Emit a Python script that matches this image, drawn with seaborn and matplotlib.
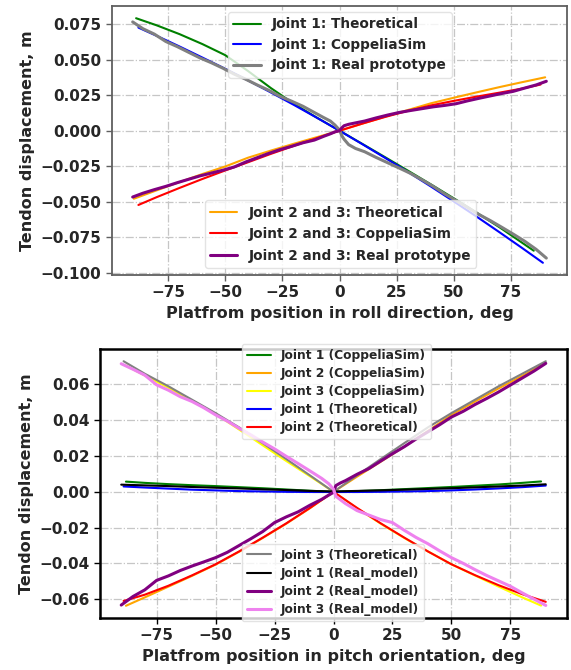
import matplotlib
matplotlib.use("Agg")
import matplotlib.pyplot as plt
import seaborn as sns

# ---------------- roll direction ----------------
roll_x = [-88, -80, -70, -60, -50, -40, -30, -20, -10, 0,
          10, 20, 30, 40, 50, 60, 70, 80, 89]
roll_j1_theory_x = [-89, -80, -70, -60, -50, -40, -30, -20, -10, 0,
                    10, 20, 30, 40, 50, 60, 70, 80, 85]
roll_j1_theory = [0.0792, 0.0742, 0.0680, 0.0610, 0.0532, 0.0420, 0.0300, 0.0190, 0.0093, 0.0,
                  -0.0093, -0.0187, -0.0282, -0.0378, -0.0476, -0.0577, -0.0680, -0.0790, -0.0845]
roll_j1_sim = [0.0726, 0.0668, 0.0593, 0.0515, 0.0436, 0.0354, 0.0269, 0.0182, 0.0092, 0.0,
               -0.0095, -0.0192, -0.0291, -0.0393, -0.0498, -0.0605, -0.0715, -0.0827, -0.0930]
roll_real_x = [-90.5, -86, -81, -76, -71, -66, -61, -56, -51, -46, -41, -36, -31, -26, -21, -16,
               -11, -7, -4, -2, 0, 1, 2, 4, 7, 11, 16, 21, 26, 31, 36, 41, 46, 51, 56, 61,
               66, 71, 76, 81, 86, 90.5]
roll_j1_real = [0.0766, 0.0718, 0.0680, 0.0628, 0.0592, 0.0552, 0.0512, 0.0478, 0.0440, 0.0398,
                0.0362, 0.0322, 0.0285, 0.0242, 0.0208, 0.0172, 0.0128, 0.0093, 0.0068, 0.0040,
                0.0005, -0.0035, -0.0060, -0.0098, -0.0125, -0.0148, -0.0188, -0.0225, -0.0262,
                -0.0300, -0.0345, -0.0392, -0.0445, -0.0492, -0.0540, -0.0590, -0.0633, -0.0680,
                -0.0728, -0.0778, -0.0835, -0.0897]
roll_j23_theory_x = [-90, -80, -70, -60, -50, -40, -30, -20, -10, 0,
                     10, 20, 30, 40, 50, 60, 70, 80, 90]
roll_j23_theory = [-0.0479, -0.0420, -0.0362, -0.0305, -0.0252, -0.0190, -0.0140, -0.0092, -0.0046, 0.0,
                   0.0050, 0.0099, 0.0146, 0.0193, 0.0232, 0.0270, 0.0307, 0.0342, 0.0376]
roll_j23_sim_x = [-88, -80, -70, -60, -50, -40, -30, -20, -10, 0,
                  10, 20, 30, 40, 50, 60, 70, 80, 88]
roll_j23_sim = [-0.0523, -0.0468, -0.0403, -0.0340, -0.0280, -0.0222, -0.0163, -0.0107, -0.0053, 0.0,
                0.0050, 0.0097, 0.0140, 0.0178, 0.0210, 0.0240, 0.0268, 0.0297, 0.0325]
roll_j23_real = [-0.0467, -0.0440, -0.0415, -0.0392, -0.0366, -0.0342, -0.0318, -0.0298, -0.0278,
                 -0.0255, -0.0220, -0.0190, -0.0160, -0.0133, -0.0110, -0.0085, -0.0066, -0.0040,
                 -0.0022, -0.0008, 0.0, 0.0020, 0.0035, 0.0045, 0.0055, 0.0068, 0.0090, 0.0110,
                 0.0128, 0.0142, 0.0155, 0.0168, 0.0178, 0.0190, 0.0210, 0.0228, 0.0245, 0.0262,
                 0.0277, 0.0300, 0.0322, 0.0348]

# ---------------- pitch orientation ----------------
pitch_x = [-88, -80, -70, -60, -50, -40, -30, -20, -10, 0,
           10, 20, 30, 40, 50, 60, 70, 80, 88]
pitch_x_wide = [-89, -80, -70, -60, -50, -40, -30, -20, -10, 0,
                10, 20, 30, 40, 50, 60, 70, 80, 90]
pitch_j1_sim = [0.0057, 0.0050, 0.0043, 0.0037, 0.0032, 0.0026, 0.0020, 0.0013, 0.0006, 0.0,
                0.0004, 0.0009, 0.0015, 0.0021, 0.0027, 0.0034, 0.0041, 0.0050, 0.0058]
pitch_j2_sim = [-0.0637, -0.0590, -0.0530, -0.0470, -0.0407, -0.0335, -0.0258, -0.0178, -0.0092, 0.0,
                0.0085, 0.0168, 0.0252, 0.0340, 0.0430, 0.0505, 0.0578, 0.0648, 0.0707]
pitch_j3_sim = [0.0706, 0.0650, 0.0582, 0.0508, 0.0435, 0.0348, 0.0260, 0.0172, 0.0087, 0.0,
                -0.0092, -0.0178, -0.0258, -0.0333, -0.0405, -0.0468, -0.0530, -0.0590, -0.0636]
pitch_j1_theory = [0.0030, 0.0024, 0.0018, 0.0012, 0.0008, 0.0004, 0.0002, 0.0000, -0.0001, -0.0001,
                   -0.0001, 0.0000, 0.0002, 0.0004, 0.0008, 0.0013, 0.0019, 0.0026, 0.0035]
pitch_j2_theory = [-0.0610, -0.0575, -0.0525, -0.0467, -0.0405, -0.0333, -0.0256, -0.0176, -0.0090, 0.0,
                   -0.0090, -0.0176, -0.0256, -0.0333, -0.0405, -0.0466, -0.0522, -0.0572, -0.0615]
pitch_j3_theory = [0.0730, 0.0660, 0.0590, 0.0515, 0.0440, 0.0360, 0.0272, 0.0183, 0.0092, 0.0,
                   0.0092, 0.0183, 0.0272, 0.0360, 0.0440, 0.0515, 0.0590, 0.0660, 0.0730]
pitch_j1_real_x = [-90, -80, -70, -60, -50, -40, -30, -20, -10, 0,
                   10, 20, 30, 40, 50, 60, 70, 80, 90]
pitch_j1_real = [0.0040, 0.0036, 0.0032, 0.0027, 0.0023, 0.0019, 0.0014, 0.0010, 0.0005, 0.0002,
                 0.0005, 0.0008, 0.0012, 0.0016, 0.0020, 0.0025, 0.0030, 0.0035, 0.0042]
pitch_real_x = [-90, -85, -80, -75, -70, -65, -60, -55, -50, -45, -40, -35, -30, -25, -20, -15,
                -10, -5, -2, 0, 1, 3, 5, 10, 15, 20, 25, 30, 35, 40, 45, 50, 55, 60, 65, 70,
                75, 80, 85, 90]
pitch_j2_real = [-0.0633, -0.0585, -0.0548, -0.0495, -0.0470, -0.0440, -0.0415, -0.0392, -0.0368,
                 -0.0338, -0.0300, -0.0262, -0.0222, -0.0172, -0.0140, -0.0112, -0.0075, -0.0042,
                 -0.0018, -0.0003, 0.0035, 0.0050, 0.0062, 0.0098, 0.0130, 0.0172, 0.0213, 0.0252,
                 0.0295, 0.0335, 0.0375, 0.0418, 0.0450, 0.0488, 0.0522, 0.0558, 0.0597, 0.0636,
                 0.0675, 0.0718]
pitch_j3_real = [0.0716, 0.0685, 0.0652, 0.0598, 0.0568, 0.0532, 0.0505, 0.0470, 0.0430, 0.0395,
                 0.0355, 0.0318, 0.0278, 0.0240, 0.0198, 0.0158, 0.0117, 0.0075, 0.0045, 0.0015,
                 -0.0025, -0.0045, -0.0065, -0.0105, -0.0130, -0.0155, -0.0172, -0.0215, -0.0255,
                 -0.0290, -0.0330, -0.0368, -0.0400, -0.0435, -0.0468, -0.0498, -0.0528, -0.0565,
                 -0.0600, -0.0635]

sns.set_style("white")
plt.rcParams.update({
    "font.family": ["DejaVu Sans"],
    "font.weight": "bold",
    "axes.labelweight": "bold",
    "axes.unicode_minus": True,
})

fig = plt.figure(figsize=(5.71, 6.70), dpi=100)
ax1 = fig.add_axes([112 / 571, 1 - 275 / 670, 455 / 571, 269 / 670])
ax2 = fig.add_axes([100 / 571, 1 - 618 / 670, 467 / 571, 269 / 670])


def style_axes(ax, spine_color, spine_width):
    ax.grid(True, linestyle="-.", color="#c6c6c6", linewidth=0.9)
    ax.set_axisbelow(True)
    for s in ax.spines.values():
        s.set_visible(True)
        s.set_color(spine_color)
        s.set_linewidth(spine_width)
    ax.tick_params(axis="both", which="major", labelsize=11, length=4, width=1,
                   color=spine_color, direction="out", left=True, bottom=True)
    for lab in ax.get_xticklabels() + ax.get_yticklabels():
        lab.set_fontweight("bold")


def line(ax, x, y, color, label, lw):
    sns.lineplot(x=x, y=y, color=color, label=label, linewidth=lw, ax=ax,
                 sort=False, estimator=None, legend=False)


def legend_kw(size, spacing):
    return dict(frameon=True, framealpha=0.8, edgecolor="#dddddd", labelspacing=spacing,
                borderpad=0.4, handlelength=2.0, borderaxespad=0.0,
                prop={"size": size, "weight": "bold"})


# roll direction
thin, thick = 1.5, 2.2
line(ax1, roll_j1_theory_x, roll_j1_theory, "green", "Joint 1: Theoretical", thin)
line(ax1, roll_x, roll_j1_sim, "blue", "Joint 1: CoppeliaSim", thin)
line(ax1, roll_real_x, roll_j1_real, "gray", "Joint 1: Real prototype", thick)
line(ax1, roll_j23_theory_x, roll_j23_theory, "orange", "Joint 2 and 3: Theoretical", thin)
line(ax1, roll_j23_sim_x, roll_j23_sim, "red", "Joint 2 and 3: CoppeliaSim", thin)
line(ax1, roll_real_x, roll_j23_real, "purple", "Joint 2 and 3: Real prototype", thick)
ax1.set_xlabel("Platfrom position in roll direction, deg", fontsize=11.5, fontweight="bold")
ax1.set_ylabel("Tendon displacement, m", fontsize=11.5, fontweight="bold")
style_axes(ax1, "#5f5f5f", 1.3)

h, l = ax1.get_legend_handles_labels()
lg1 = ax1.legend(h[:3], l[:3], loc="upper left", bbox_to_anchor=(0.255, 0.978),
                 **legend_kw(9.8, 0.48))
ax1.add_artist(lg1)
ax1.legend(h[3:], l[3:], loc="lower left", bbox_to_anchor=(0.204, 0.026),
           **legend_kw(9.8, 0.55))

# pitch orientation
line(ax2, pitch_x, pitch_j1_sim, "green", "Joint 1 (CoppeliaSim)", thin)
line(ax2, pitch_x, pitch_j2_sim, "orange", "Joint 2 (CoppeliaSim)", thin)
line(ax2, pitch_x, pitch_j3_sim, "yellow", "Joint 3 (CoppeliaSim)", thin)
line(ax2, pitch_x_wide, pitch_j1_theory, "blue", "Joint 1 (Theoretical)", thin)
line(ax2, pitch_x_wide, pitch_j2_theory, "red", "Joint 2 (Theoretical)", thin)
line(ax2, pitch_x_wide, pitch_j3_theory, "gray", "Joint 3 (Theoretical)", thin)
line(ax2, pitch_j1_real_x, pitch_j1_real, "black", "Joint 1 (Real_model)", thin)
line(ax2, pitch_real_x, pitch_j2_real, "purple", "Joint 2 (Real_model)", thick)
line(ax2, pitch_real_x, pitch_j3_real, "violet", "Joint 3 (Real_model)", thick)
ax2.set_xlabel("Platfrom position in pitch orientation, deg", fontsize=11.5, fontweight="bold")
ax2.set_ylabel("Tendon displacement, m", fontsize=11.5, fontweight="bold")
style_axes(ax2, "black", 1.8)

h, l = ax2.get_legend_handles_labels()
lg3 = ax2.legend(h[:5], l[:5], loc="upper left", bbox_to_anchor=(0.304, 1.019),
                 **legend_kw(8.8, 0.42))
ax2.add_artist(lg3)
ax2.legend(h[5:], l[5:], loc="lower left", bbox_to_anchor=(0.304, -0.011),
           **legend_kw(8.8, 0.42))

fig.savefig("out.png", dpi=100)
